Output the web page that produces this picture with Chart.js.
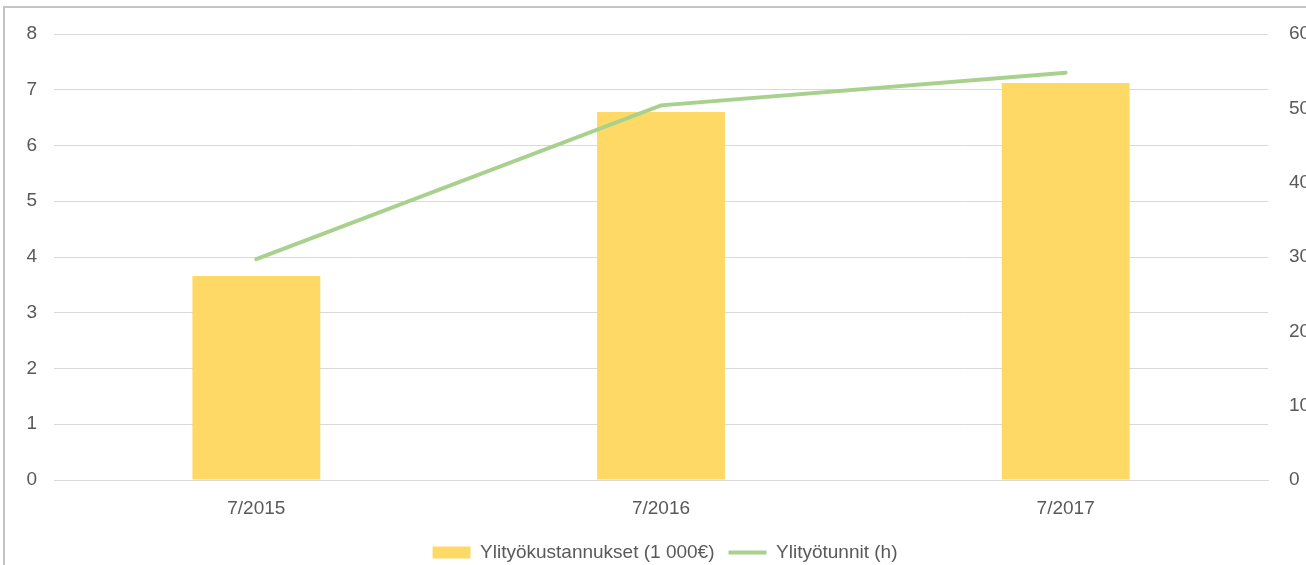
<!DOCTYPE html>
<html>
<head>
<meta charset="utf-8">
<script src="https://cdn.jsdelivr.net/npm/chart.js@4.4.0/dist/chart.umd.min.js"></script>
<style>
  html, body { margin: 0; padding: 0; background: #fff; overflow: hidden; }
  #frame { position: absolute; left: 3px; top: 6px; width: 1400px; height: 700px;
           border-left: 2px solid #c4c4c4; border-top: 2px solid #c4c4c4; }
  #wrap { position: absolute; left: 0; top: 0; width: 1330px; height: 565px; }
</style>
</head>
<body>
<div id="frame"></div>
<div id="wrap"><canvas id="chart"></canvas></div>
<script>
// Data
const categories = ['7/2015', '7/2016', '7/2017'];
const costs = [3.66, 6.6, 7.12];      // Ylityökustannukset (1 000€)
const hours = [29.7, 50.4, 54.8];     // Ylityötunnit (h)
const labelCost = 'Ylityökustannukset (1 000€)';
const labelHours = 'Ylityötunnit (h)';

const textColor = '#595959';
const gridColor = '#d9d9d9';
const font = { family: 'Liberation Sans', size: 19 };

const ctx = document.getElementById('chart').getContext('2d');
const chart = new Chart(ctx, {
    data: {
        labels: categories,
        datasets: [
            {
                type: 'line',
                label: labelHours,
                data: hours,
                yAxisID: 'y1',
                borderColor: '#a9d18e',
                backgroundColor: '#a9d18e',
                borderWidth: 4,
                borderCapStyle: 'round',
                pointRadius: 0,
                order: 0
            },
            {
                type: 'bar',
                label: labelCost,
                data: costs,
                yAxisID: 'y',
                backgroundColor: '#ffd966',
                categoryPercentage: 1,
                barPercentage: 0.316,
                order: 1
            }
        ]
    },
    options: {
        responsive: true,
        maintainAspectRatio: false,
        animation: false,
        layout: { padding: { top: 34, left: 0, right: 0, bottom: -7 } },
        plugins: {
            tooltip: { enabled: false },
            legend: {
                position: 'bottom',
                reverse: true,
                labels: {
                    color: textColor,
                    font: { family: 'Liberation Sans', size: 19 },
                    usePointStyle: true,
                    pointStyleWidth: 38,
                    boxHeight: 12,
                    padding: 14,
                    generateLabels(chart) {
                        const items = Chart.defaults.plugins.legend.labels.generateLabels(chart);
                        items.forEach(it => {
                            if (it.text === labelCost) { it.pointStyle = 'rect'; it.lineWidth = 0; }
                            else { it.pointStyle = 'line'; it.lineWidth = 4; it.strokeStyle = '#a9d18e'; }
                        });
                        return items;
                    }
                }
            }
        },
        scales: {
            x: {
                grid: { display: false },
                border: { display: true, color: gridColor },
                ticks: { color: textColor, font: font, padding: 9 },
                afterFit(scale) { scale.height = 49; }
            },
            y: {
                position: 'left',
                min: 0, max: 8,
                ticks: { stepSize: 1, color: textColor, font: font, padding: 17 },
                grid: { color: gridColor, drawTicks: false },
                border: { display: false },
                afterFit(scale) { scale.width = 54; }
            },
            y1: {
                position: 'right',
                min: 0, max: 60,
                ticks: { stepSize: 10, color: textColor, font: font, padding: 21 },
                grid: { display: false, drawTicks: false },
                border: { display: false },
                afterFit(scale) { scale.width = 62; }
            }
        }
    }
});
</script>
</body>
</html>
